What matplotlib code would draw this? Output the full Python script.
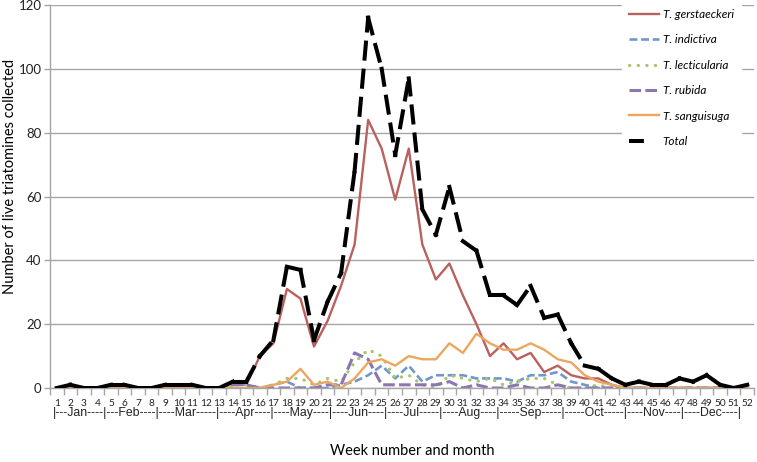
import numpy as np
import matplotlib
matplotlib.use("Agg")
import matplotlib.pyplot as plt
from matplotlib.collections import LineCollection
from matplotlib.lines import Line2D

plt.rcParams['font.family'] = ['Lato', 'DejaVu Sans']

# Weekly counts of live triatomines, weeks 1-52
weeks = np.arange(1, 53)
gerstaeckeri = [0, 0, 0, 0, 0, 0, 0, 0, 0, 0, 0, 0, 0, 1, 1, 10, 14, 31, 28, 13,
                21, 32, 45, 84, 75, 59, 75, 45, 34, 39, 29, 20, 10, 14, 9, 11, 5, 7, 4, 3,
                3, 1, 0, 0, 0, 0, 0, 0, 0, 0, 0, 0]
indictiva = [0, 0, 0, 0, 0, 0, 0, 0, 0, 0, 0, 0, 0, 1, 1, 0, 1, 2, 0, 0,
             0, 1, 2, 4, 7, 3, 7, 2, 4, 4, 4, 3, 3, 3, 2, 4, 4, 5, 2, 1,
             0, 0, 0, 0, 0, 0, 0, 0, 0, 0, 0, 0]
lecticularia = [0, 0, 0, 0, 0, 0, 0, 0, 0, 0, 0, 0, 0, 1, 1, 0, 1, 3, 3, 1,
                3, 2, 8, 12, 10, 3, 4, 1, 0, 4, 3, 2, 3, 1, 2, 3, 3, 1, 0, 0,
                1, 0, 0, 0, 0, 0, 0, 0, 0, 0, 0, 0]
rubida = [0, 0, 0, 0, 0, 0, 0, 0, 0, 0, 0, 0, 0, 1, 1, 0, 0, 0, 0, 0,
          1, 1, 11, 9, 1, 1, 1, 1, 1, 2, 0, 1, 0, 0, 1, 0, 0, 1, 0, 0,
          0, 0, 0, 0, 0, 0, 0, 0, 0, 0, 0, 0]
sanguisuga = [0, 0, 0, 0, 0, 0, 0, 0, 0, 0, 0, 0, 0, 0, 0, 0, 1, 2, 6, 1,
              2, 0, 3, 8, 9, 7, 10, 9, 9, 14, 11, 17, 14, 12, 12, 14, 12, 9, 8, 4,
              2, 1, 0, 0, 0, 0, 0, 0, 0, 0, 0, 0]
total = [0, 1, 0, 0, 1, 1, 0, 0, 1, 1, 1, 0, 0, 2, 2, 10, 15, 38, 37, 15,
         27, 36, 68, 116, 100, 73, 97, 56, 48, 63, 46, 43, 29, 29, 26, 32, 22, 23, 14, 7,
         6, 3, 1, 2, 1, 1, 3, 2, 4, 1, 0, 1]

month_text = ("|---Jan----|---Feb----|----Mar-----|----Apr----|----May----|----Jun----|"
              "----Jul-----|----Aug----|-----Sep-----|-----Oct-----|----Nov----|----Dec----|")

W, H = 757, 462
fig = plt.figure(figsize=(W / 100, H / 100), dpi=100)
ax = fig.add_axes([50 / W, (H - 388) / H, 704 / W, 383 / H])

grey = '#A6A6A6'

ax.plot(weeks, gerstaeckeri, color='#B9615E', lw=1.7, label='T. gerstaeckeri')
ax.plot(weeks, indictiva, color='#7097CC', lw=1.9, dashes=(3, 1.4), label='T. indictiva')
ax.plot(weeks, lecticularia, color='#A9C46E', lw=2.3, dashes=(0.1, 2.6),
        dash_capstyle='round', label='T. lecticularia')
ax.plot(weeks, rubida, color='#8C76B0', lw=2.2, dashes=(3.8, 1.4), label='T. rubida')
ax.plot(weeks, sanguisuga, color='#EDA65E', lw=1.7, label='T. sanguisuga')

# total: dash pattern restarts on every segment, like the original
pts = np.column_stack([weeks, total])
segs = np.stack([pts[:-1], pts[1:]], axis=1)
lc = LineCollection(segs, colors='black', linewidths=2.9,
                    linestyles=[(0, (4, 3))], capstyle='projecting', zorder=5)
ax.add_collection(lc)

ax.set_xlim(0.5, 52.5)
ax.set_ylim(0, 120)
ax.set_yticks(np.arange(0, 121, 20))
ax.yaxis.grid(True, color=grey, lw=1)
ax.set_axisbelow(True)
ax.set_xticks(weeks)
ax.set_xticks(np.arange(0.5, 53, 1), minor=True)
ax.tick_params(axis='x', which='major', length=0, labelsize=7.3, pad=8, colors='#222222')
ax.tick_params(axis='x', which='minor', length=5, color=grey, width=1)
ax.tick_params(axis='y', length=4, color=grey, width=1, labelsize=9.5, pad=2,
               colors='#222222')
for s in ['top', 'right']:
    ax.spines[s].set_visible(False)
for s in ['left', 'bottom']:
    ax.spines[s].set_color(grey)
    ax.spines[s].set_linewidth(1)

ax.set_ylabel('Number of live triatomines collected', fontsize=10.5)
ax.yaxis.set_label_coords(-0.047, 0.553)
ax.set_xlabel('Week number and month', fontsize=10.5)
ax.xaxis.set_label_coords(0.514, -0.145)

# month row, sized to span the same width as in the original
mt = fig.text(53 / W, 1 - 413 / H, month_text, fontsize=8.5, va='center', ha='left',
              color='#222222', family='Liberation Sans')
for _ in range(3):
    fig.canvas.draw()
    bb = mt.get_window_extent(renderer=fig.canvas.get_renderer())
    mt.set_fontsize(mt.get_fontsize() * 700 / bb.width)

handles, labels = ax.get_legend_handles_labels()
handles.append(Line2D([], [], color='black', lw=2.9, dashes=(3.7, 6),
                      dash_capstyle='butt'))
labels.append('Total')
leg = fig.legend(handles, labels, loc='upper left',
                 bbox_to_anchor=(616 / W, 1 + 4 / H), frameon=True,
                 prop={'style': 'italic', 'size': 8.5}, handlelength=2.5,
                 handletextpad=0.35, labelspacing=1.22, borderpad=0.6,
                 fancybox=False)
leg.get_frame().set_facecolor('white')
leg.get_frame().set_edgecolor('white')
leg.get_frame().set_alpha(1)

fig.savefig('out.png', dpi=100)
